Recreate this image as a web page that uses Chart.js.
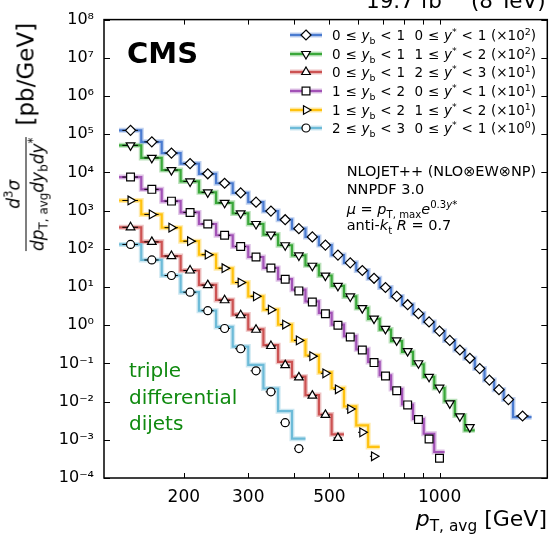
<!DOCTYPE html>
<html>
<head>
<meta charset="utf-8">
<script src="https://cdn.jsdelivr.net/npm/chart.js@4.4.1/dist/chart.umd.min.js"></script>
<style>
  body { margin: 0; background: #fff; }
  #wrap { position: relative; width: 554px; height: 535px; overflow: hidden; font-family: "DejaVu Sans", sans-serif; color: #000; }
  #chart { position: absolute; left: 0; top: 0; }
  .ov { position: absolute; white-space: nowrap; line-height: 1; }
  sub, sup { font-size: 70%; line-height: 0; }
  #ytitle { left: 26px; top: 137px; transform: translate(-50%, -50%) rotate(-90deg); display: flex; align-items: center; gap: 12px; }
  .frac { display: inline-flex; flex-direction: column; align-items: center; font-size: 17px; }
  .num { padding-bottom: 3px; }
  .den { border-top: 1.5px solid #000; padding-top: 3px; }
  .unit { font-size: 23px; }
  #xtitle { right: 7px; top: 508px; font-size: 22px; }
  #cms { left: 127px; top: 38.5px; font-size: 29px; font-weight: bold; }
  #lumi { left: 366px; top: -10px; font-size: 21.5px; }
  #legend { position: absolute; left: 290px; top: 25.6px; }
  .lrow { height: 18.7px; display: flex; align-items: center; font-size: 13.5px; white-space: nowrap; word-spacing: 0.5px; }
  .lrow svg { margin-right: 10px; }
  .note { left: 346.7px; font-size: 14.5px; }
  #dijets { position: absolute; left: 129px; top: 357px; font-size: 20px; line-height: 26.7px; color: #108a10; }
</style>
</head>
<body>
<div id="wrap">
  <canvas id="chart" width="554" height="535"></canvas>
  <div id="lumi" class="ov">19.7 fb<sup>−1</sup> (8 TeV)</div>
  <div id="cms" class="ov">CMS</div>
  <div id="legend"></div>
  <div class="ov note" style="top:163.7px">NLOJET++ (NLO⊗EW⊗NP)</div>
  <div class="ov note" style="top:181.7px">NNPDF 3.0</div>
  <div class="ov note" style="top:201.7px"><i>μ</i> = <i>p</i><sub>T, max</sub><i>e</i><sup>0.3<i>y</i>*</sup></div>
  <div class="ov note" style="top:218.4px">anti-<i>k</i><sub>t</sub> <i>R</i> = 0.7</div>
  <div id="dijets">triple<br>differential<br>dijets</div>
  <div id="ytitle" class="ov">
    <span class="frac"><span class="num"><i>d</i><sup>3</sup><i>σ</i></span><span class="den"><i>dp</i><sub>T, avg</sub><i>dy</i><sub>b</sub><i>dy</i><sup>*</sup></span></span>
    <span class="unit">[pb/GeV]</span>
  </div>
  <div id="xtitle" class="ov"><i>p</i><sub>T, avg</sub> [GeV]</div>
</div>
<script>
// pT,avg bin edges (GeV); the last blue bin is merged 1588-1784
const binEdges = [133, 153, 174, 196, 220, 245, 272, 300, 330, 362, 395, 430, 468, 507, 548, 592, 638, 686,
  737, 790, 846, 905, 967, 1032, 1101, 1172, 1248, 1327, 1410, 1497, 1588, 1784];

// rapidity categories
const ybLow = [0, 0, 0, 1, 1, 2];
const ybHigh = [1, 1, 1, 2, 2, 3];
const ystarLow = [0, 1, 2, 0, 1, 0];
const ystarHigh = [1, 2, 3, 1, 2, 1];
const scaleExp = [2, 2, 1, 1, 1, 0];

// measured cross sections (already scaled), pb/GeV
const dataYb0Ys0 = [1.26e5, 6.3e4, 3.2e4, 1.7e4, 9.2e3, 5.2e3, 2.9e3, 1.66e3, 970, 577, 337, 205, 125, 68.5, 43, 27,
  16.9, 9.7, 5.66, 3.44, 2.0, 1.22, 0.70, 0.40, 0.224, 0.136, 0.073, 0.0366, 0.0205, 0.0113, 4.2e-3];
const dataYb0Ys1 = [5.1e4, 2.4e4, 1.15e4, 5.8e3, 3.0e3, 1.6e3, 844, 446, 236, 124, 67, 36, 19.9, 10.7, 5.66, 2.8,
  1.49, 0.80, 0.40, 0.21, 0.101, 0.0446, 0.0231, 9.0e-3, 4.1e-3, 2.15e-3];
const dataYb0Ys2 = [366, 152, 64.5, 27, 11.2, 4.5, 1.82, 0.76, 0.285, 0.09, 0.043, 0.0143, 4.5e-3, 1.12e-3];
const dataYb1Ys0 = [7.55e3, 3.6e3, 1.77e3, 896, 446, 226, 115, 61, 31.5, 16, 7.9, 4.03, 2.0, 1.0, 0.49, 0.224,
  0.105, 0.047, 0.0193, 8.2e-3, 3.4e-3, 1.05e-3, 3.3e-4];
const dataYb1Ys1 = [1.84e3, 794, 358, 158, 70, 31, 13.1, 5.7, 2.55, 1.04, 0.40, 0.155, 0.055, 0.021, 6.4e-3, 1.57e-3, 3.7e-4];
const dataYb2Ys0 = [130, 51, 20, 7.3, 2.4, 0.82, 0.242, 0.064, 0.018, 2.8e-3, 5.9e-4];

// theory prediction (step lines)
const theoYb0Ys0 = [1.26e5, 6.3e4, 3.2e4, 1.7e4, 9.2e3, 5.2e3, 2.9e3, 1.66e3, 970, 577, 337, 205, 125, 68.5, 43, 27,
  16.9, 9.7, 5.66, 3.44, 2.0, 1.22, 0.70, 0.40, 0.224, 0.136, 0.073, 0.0366, 0.0205, 0.0113, 3.9e-3];
const theoYb0Ys1 = [5.1e4, 2.4e4, 1.15e4, 5.8e3, 3.0e3, 1.6e3, 844, 446, 236, 124, 67, 37, 20, 10.7, 5.66, 2.8,
  1.46, 0.77, 0.384, 0.2, 0.095, 0.0446, 0.0226, 0.0102, 4.35e-3, 1.77e-3];
const theoYb0Ys2 = [366, 152, 64.5, 27, 11.4, 4.6, 1.9, 0.78, 0.3, 0.11, 0.045, 0.0148, 4.6e-3, 1.39e-3];
const theoYb1Ys0 = [7.55e3, 3.6e3, 1.77e3, 896, 446, 226, 115, 61, 31.5, 16, 8.5, 4.2, 2.09, 1.04, 0.52, 0.233,
  0.109, 0.049, 0.0213, 8.4e-3, 3.5e-3, 1.44e-3, 4.8e-4];
const theoYb1Ys1 = [1.84e3, 794, 358, 158, 70, 31, 13.1, 5.7, 2.55, 1.04, 0.40, 0.163, 0.058, 0.0226, 7.5e-3, 2.4e-3, 6.5e-4];
const theoYb2Ys0 = [130, 51, 20, 7.3, 2.4, 0.9, 0.275, 0.091, 0.022, 5.6e-3, 1.07e-3];

// axis ticks
const xTickLabels = [200, 300, 500, 1000];
const xTickMinor = [400, 600, 700, 800, 900];
const yTickExps = [-4, -3, -2, -1, 0, 1, 2, 3, 4, 5, 6, 7, 8];

const measured = [dataYb0Ys0, dataYb0Ys1, dataYb0Ys2, dataYb1Ys0, dataYb1Ys1, dataYb2Ys0];
const theory = [theoYb0Ys0, theoYb0Ys1, theoYb0Ys2, theoYb1Ys0, theoYb1Ys1, theoYb2Ys0];

const colors = ['#4a7bd0', '#3aa83a', '#cc5252', '#a252b6', '#ffc20e', '#6dbbd8'];
const halos = ['rgba(74,123,208,0.35)', 'rgba(58,168,58,0.35)', 'rgba(204,82,82,0.35)',
  'rgba(162,82,182,0.35)', 'rgba(255,194,14,0.35)', 'rgba(109,187,216,0.35)'];
const pointStyles = ['rectRot', 'triangle', 'triangle', 'rect', 'triangle', 'circle'];
const rotations = [0, 180, 0, 0, 90, 0];
const radii = [5, 5, 5, 5.5, 5, 4];

const datasets = [];
measured.forEach((vals, s) => {
  const n = vals.length;
  const edges = binEdges.slice(0, n + 1);
  const th = theory[s];
  const steps = edges.map((e, i) => ({ x: e, y: th[Math.min(i, n - 1)] }));
  datasets.push({ data: steps, stepped: 'before', borderColor: halos[s], borderWidth: 5, pointRadius: 0, order: 30 });
  datasets.push({ data: steps, stepped: 'before', borderColor: colors[s], borderWidth: 2.2, pointRadius: 0, order: 20 });
  const bars = [];
  vals.forEach((v, i) => {
    const lo = edges[i], hi = edges[i + 1];
    const a = lo * Math.pow(hi / lo, 0.15), b = lo * Math.pow(hi / lo, 0.85);
    bars.push({ x: a, y: v }, { x: b, y: v }, { x: b, y: null });
  });
  datasets.push({ data: bars, borderColor: '#000', borderWidth: 1, pointRadius: 0, spanGaps: false, order: 10 });
  datasets.push({
    data: vals.map((v, i) => ({ x: (edges[i] + edges[i + 1]) / 2, y: v })),
    showLine: false, pointStyle: pointStyles[s], rotation: rotations[s], pointRadius: radii[s],
    pointBorderColor: '#000', pointBackgroundColor: '#fff', pointBorderWidth: 1.2, order: 0
  });
});

const supMap = { '-': '⁻', '0': '⁰', '1': '¹', '2': '²', '3': '³', '4': '⁴', '5': '⁵', '6': '⁶', '7': '⁷', '8': '⁸', '9': '⁹' };
const sup = n => String(n).split('').map(c => supMap[c]).join('');

const frameTicks = {
  id: 'frameTicks',
  afterDraw(chart) {
    const { ctx, chartArea: a, scales: { x, y } } = chart;
    ctx.save();
    ctx.strokeStyle = '#000';
    ctx.lineWidth = 1;
    ctx.beginPath();
    x.ticks.forEach(t => {
      const px = Math.round(x.getPixelForValue(t.value)) + 0.5;
      ctx.moveTo(px, a.bottom); ctx.lineTo(px, a.bottom - 5);
      ctx.moveTo(px, a.top); ctx.lineTo(px, a.top + 5);
    });
    y.ticks.forEach(t => {
      const py = Math.round(y.getPixelForValue(t.value)) + 0.5;
      ctx.moveTo(a.left, py); ctx.lineTo(a.left + 6, py);
      ctx.moveTo(a.right, py); ctx.lineTo(a.right - 6, py);
    });
    ctx.stroke();
    ctx.lineWidth = 1.5;
    ctx.strokeRect(a.left, a.top, a.right - a.left, a.bottom - a.top);
    ctx.restore();
  }
};

new Chart(document.getElementById('chart'), {
  type: 'line',
  data: { datasets },
  options: {
    responsive: false,
    animation: false,
    devicePixelRatio: 1,
    layout: { padding: { top: 16, right: 4, left: 0, bottom: 0 } },
    plugins: { legend: { display: false }, tooltip: { enabled: false } },
    scales: {
      x: {
        type: 'logarithmic', min: 121, max: 1970,
        grid: { display: false, drawTicks: false }, border: { display: false },
        afterBuildTicks: sc => { sc.ticks = xTickLabels.concat(xTickMinor).sort((p, q) => p - q).map(v => ({ value: v })); },
        afterFit: sc => { sc.height = 57; },
        ticks: {
          autoSkip: false, maxRotation: 0, padding: 9, color: '#000',
          font: { family: 'DejaVu Sans', size: 17 },
          callback: v => xTickLabels.includes(v) ? String(v) : ''
        }
      },
      y: {
        type: 'logarithmic', min: 1e-4, max: 1e8,
        grid: { display: false, drawTicks: false }, border: { display: false },
        afterBuildTicks: sc => { sc.ticks = yTickExps.map(e => ({ value: Math.pow(10, e) })); },
        afterFit: sc => { sc.width = 104; },
        ticks: {
          padding: 10, color: '#000',
          font: { family: 'DejaVu Sans', size: 16 },
          callback: v => '10' + sup(Math.round(Math.log10(v)))
        }
      }
    }
  },
  plugins: [frameTicks]
});

// legend inside the plot
function markerSvg(s) {
  const c = colors[s];
  let m = '';
  if (s === 0) m = '<polygon points="16,2 21,7 16,12 11,7"/>';
  else if (s === 1) m = '<polygon points="16,12 20.3,4.5 11.7,4.5"/>';
  else if (s === 2) m = '<polygon points="16,2 20.3,9.5 11.7,9.5"/>';
  else if (s === 3) m = '<rect x="12.1" y="3.1" width="7.8" height="7.8"/>';
  else if (s === 4) m = '<polygon points="21,7 13.5,2.7 13.5,11.3"/>';
  else m = '<circle cx="16" cy="7" r="4"/>';
  return `<svg width="32" height="14" viewBox="0 0 32 14">` +
    `<line x1="0" y1="7" x2="32" y2="7" stroke="${halos[s]}" stroke-width="5"/>` +
    `<line x1="0" y1="7" x2="32" y2="7" stroke="${c}" stroke-width="2.2"/>` +
    `<g fill="#fff" stroke="#000" stroke-width="1.2">${m}</g></svg>`;
}
const legendEl = document.getElementById('legend');
ybLow.forEach((_, s) => {
  const row = document.createElement('div');
  row.className = 'lrow';
  row.innerHTML = markerSvg(s) +
    `<span>${ybLow[s]} ≤ <i>y</i><sub>b</sub> &lt; ${ybHigh[s]}&nbsp;&nbsp;${ystarLow[s]} ≤ <i>y</i><sup>*</sup> &lt; ${ystarHigh[s]} (×10<sup>${scaleExp[s]}</sup>)</span>`;
  legendEl.appendChild(row);
});
</script>
</body>
</html>
